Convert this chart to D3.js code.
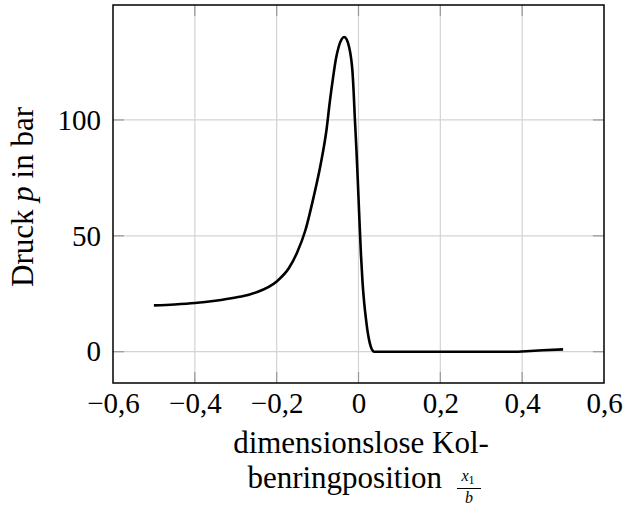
<!DOCTYPE html>
<html>
<head>
<meta charset="utf-8">
<script src="https://cdn.jsdelivr.net/npm/d3@7"></script>
<style>
  html, body { margin: 0; padding: 0; background: #fff; }
  svg text { font-family: "Liberation Serif", "DejaVu Serif", serif; fill: #000; }
</style>
</head>
<body>
<svg id="chart" width="623" height="506"></svg>
<script>
// Data
const positions = [-0.5, -0.45, -0.4, -0.35, -0.3, -0.268, -0.25, -0.2, -0.17, -0.15, -0.13, -0.11, -0.092,
  -0.078, -0.07, -0.062, -0.055, -0.048, -0.041, -0.035, -0.029, -0.023, -0.018, -0.015, -0.012, -0.009,
  -0.005, -0.002, 0.002, 0.006, 0.010, 0.014, 0.018, 0.022, 0.026, 0.030, 0.034, 0.038,
  0.1, 0.2, 0.3, 0.39, 0.42, 0.45, 0.5];
const pressure = [20.0, 20.4, 21.0, 22.0, 23.4, 24.6, 25.6, 30.3, 36.1, 42.8, 52.3, 66.5, 81.3,
  96, 108, 118.5, 126.5, 131.8, 134.9, 135.8, 134.8, 131.5, 126.5, 121.5, 112.5, 101,
  87, 75, 58, 42, 29.6, 21, 14.5, 9, 5, 2.2, 0.6, 0,
  0, 0, 0, 0, 0.3, 0.6, 1.0];
const xTicks = [-0.6, -0.4, -0.2, 0, 0.2, 0.4, 0.6];
const yTicks = [0, 50, 100];
const xDomain = [-0.6, 0.6];
const yDomain = [-13.5, 149.6];

const SERIF = '"Liberation Serif", "DejaVu Serif", serif';
const svg = d3.select("#chart");
const L = 113, R = 604, T = 5, B = 383;
const x = d3.scaleLinear().domain(xDomain).range([L, R]);
const y = d3.scaleLinear().domain(yDomain).range([B, T]);

const fmtX = v => {
  if (Math.abs(v) < 1e-9) return "0";
  return (v < 0 ? "\u2212" : "") + Math.abs(v).toFixed(1).replace(".", ",");
};
const fmtY = v => String(v);

// grid
const inner = xTicks.filter(v => v > xDomain[0] && v < xDomain[1]);
const grid = svg.append("g");
grid.selectAll("line.vx").data(inner).join("line")
  .attr("x1", d => x(d)).attr("x2", d => x(d)).attr("y1", T).attr("y2", B)
  .attr("stroke", "#d3d3d3").attr("stroke-width", 1.2);
grid.selectAll("line.hy").data(yTicks).join("line")
  .attr("x1", L).attr("x2", R).attr("y1", d => y(d)).attr("y2", d => y(d))
  .attr("stroke", "#d3d3d3").attr("stroke-width", 1.2);

// tick marks (inside, all four sides)
const tickLen = 11;
const tk = svg.append("g").attr("stroke", "#999").attr("stroke-width", 1.2);
inner.forEach(v => {
  tk.append("line").attr("x1", x(v)).attr("x2", x(v)).attr("y1", B).attr("y2", B - tickLen);
  tk.append("line").attr("x1", x(v)).attr("x2", x(v)).attr("y1", T).attr("y2", T + tickLen);
});
yTicks.forEach(v => {
  tk.append("line").attr("x1", L).attr("x2", L + tickLen).attr("y1", y(v)).attr("y2", y(v));
  tk.append("line").attr("x1", R).attr("x2", R - tickLen).attr("y1", y(v)).attr("y2", y(v));
});

// tick labels via d3 axes
const xAxis = d3.axisBottom(x).tickValues(xTicks).tickFormat(fmtX).tickSize(0).tickPadding(9);
const gx = svg.append("g").attr("transform", `translate(0,${B})`).call(xAxis);
gx.select(".domain").remove();
gx.attr("font-family", SERIF);
gx.selectAll("text").attr("font-size", 29).style("font-family", SERIF).attr("fill", "#000");

const yAxis = d3.axisLeft(y).tickValues(yTicks).tickFormat(fmtY).tickSize(0).tickPadding(12);
const gy = svg.append("g").attr("transform", `translate(${L},0)`).call(yAxis);
gy.select(".domain").remove();
gy.attr("font-family", SERIF);
gy.selectAll("text").attr("font-size", 29).style("font-family", SERIF).attr("fill", "#000");

// curve
const data = positions.map((p, i) => [p, pressure[i]]);
const line = d3.line().x(d => x(d[0])).y(d => y(d[1])).curve(d3.curveMonotoneX);
svg.append("path").datum(data).attr("d", line)
  .attr("fill", "none").attr("stroke", "#000").attr("stroke-width", 2.6).attr("stroke-linejoin", "round");

// frame
svg.append("rect").attr("x", L).attr("y", T).attr("width", R - L).attr("height", B - T)
  .attr("fill", "none").attr("stroke", "#000").attr("stroke-width", 1.5);

// y label
const yl = svg.append("text").attr("transform", "translate(33,197) rotate(-90)")
  .attr("text-anchor", "middle").attr("font-size", 31).style("font-family", SERIF);
yl.append("tspan").text("Druck ");
yl.append("tspan").attr("font-style", "italic").text("p");
yl.append("tspan").text(" in bar");

// x label
svg.append("text").attr("x", 361).attr("y", 453).attr("text-anchor", "middle")
  .attr("font-size", 31).style("font-family", SERIF).text("dimensionslose Kol-");
svg.append("text").attr("x", 442).attr("y", 488).attr("text-anchor", "end")
  .attr("font-size", 31).style("font-family", SERIF).text("benringposition");
// fraction x1/b
const fx = 469;
const fr = svg.append("g");
const num = fr.append("text").attr("x", fx - 1).attr("y", 481).attr("text-anchor", "middle")
  .attr("font-size", 16).style("font-family", SERIF);
num.append("tspan").attr("font-style", "italic").text("x");
num.append("tspan").attr("font-size", 12).attr("dy", 3).text("1");
fr.append("line").attr("x1", fx - 12).attr("x2", fx + 12).attr("y1", 488.5).attr("y2", 488.5)
  .attr("stroke", "#000").attr("stroke-width", 1);
fr.append("text").attr("x", fx).attr("y", 503).attr("text-anchor", "middle").attr("font-size", 16)
  .style("font-family", SERIF).attr("font-style", "italic").text("b");
</script>
</body>
</html>
